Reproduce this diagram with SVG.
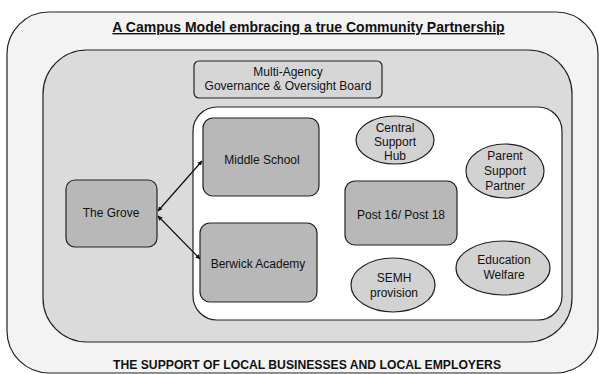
<svg xmlns="http://www.w3.org/2000/svg" width="599" height="374" viewBox="0 0 599 374">
<style>
  text { font-family: "Liberation Sans", Arial, sans-serif; fill: #111; }
  .lbl { font-size: 12px; text-anchor: middle; }
  .box { fill: #b8b8b8; stroke: #222; stroke-width: 1.2; }
  .oval { fill: #d2d2d2; stroke: #222; stroke-width: 1.2; }
  .frame { stroke: #222; stroke-width: 1.2; }
  .conn { stroke: #111; stroke-width: 1.2; fill: none; }
</style>
<defs>
  <marker id="ah" viewBox="0 0 10 10" refX="9" refY="5" markerWidth="4" markerHeight="4" orient="auto-start-reverse">
    <path d="M0,0 L10,5 L0,10 z" fill="#111"/>
  </marker>
</defs>
<rect width="599" height="374" fill="#ffffff"/>

<g id="outer">
  <rect class="frame" x="7" y="12" width="591" height="361" rx="42" ry="42" fill="#f3f3f3"/>
  <text x="308.5" y="32" font-size="14" font-weight="bold" text-anchor="middle" text-decoration="underline">A Campus Model embracing a true Community Partnership</text>
  <text x="113" y="369" font-size="13" font-weight="bold" textLength="388" lengthAdjust="spacingAndGlyphs">THE SUPPORT OF LOCAL BUSINESSES AND LOCAL EMPLOYERS</text>
</g>

<g id="middle">
  <rect class="frame" x="43" y="50" width="529" height="292" rx="44" ry="44" fill="#dbdbdb"/>
</g>

<g id="governance">
  <rect x="194" y="61" width="188" height="37" rx="5" ry="5" fill="#d6d6d6" stroke="#222" stroke-width="1.2"/>
  <text class="lbl" x="288" y="76">Multi-Agency</text>
  <text class="lbl" x="288" y="90">Governance &amp; Oversight Board</text>
</g>

<g id="inner">
  <rect class="frame" x="193" y="107" width="369" height="213" rx="24" ry="24" fill="#ffffff"/>
</g>

<g id="connectors">
  <line class="conn" x1="158" y1="211" x2="202" y2="161" marker-start="url(#ah)" marker-end="url(#ah)"/>
  <line class="conn" x1="158" y1="216" x2="200" y2="259" marker-start="url(#ah)" marker-end="url(#ah)"/>
</g>

<g id="the-grove">
  <rect class="box" x="66" y="180" width="91" height="67" rx="9" ry="9"/>
  <text class="lbl" x="111" y="217">The Grove</text>
</g>

<g id="middle-school">
  <rect class="box" x="203" y="118" width="116" height="78" rx="10" ry="10"/>
  <text class="lbl" x="262" y="164">Middle School</text>
</g>

<g id="berwick-academy">
  <rect class="box" x="200" y="223" width="117" height="79" rx="10" ry="10"/>
  <text class="lbl" x="258" y="268">Berwick Academy</text>
</g>

<g id="post-16-18">
  <rect class="box" x="345" y="181" width="112" height="64" rx="10" ry="10"/>
  <text class="lbl" x="401" y="219">Post 16/ Post 18</text>
</g>

<g id="central-support-hub">
  <ellipse class="oval" cx="395" cy="140" rx="39" ry="24"/>
  <text class="lbl" x="395" y="132">Central</text>
  <text class="lbl" x="395" y="146">Support</text>
  <text class="lbl" x="395" y="160">Hub</text>
</g>

<g id="parent-support-partner">
  <ellipse class="oval" cx="505" cy="171" rx="39" ry="27"/>
  <text class="lbl" x="505" y="160">Parent</text>
  <text class="lbl" x="505" y="175">Support</text>
  <text class="lbl" x="505" y="190">Partner</text>
</g>

<g id="semh-provision">
  <ellipse class="oval" cx="393" cy="285" rx="42" ry="27"/>
  <text class="lbl" x="394" y="282">SEMH</text>
  <text class="lbl" x="394" y="297">provision</text>
</g>

<g id="education-welfare">
  <ellipse class="oval" cx="503" cy="268" rx="47" ry="27"/>
  <text class="lbl" x="504" y="264">Education</text>
  <text class="lbl" x="504" y="279">Welfare</text>
</g>
</svg>
